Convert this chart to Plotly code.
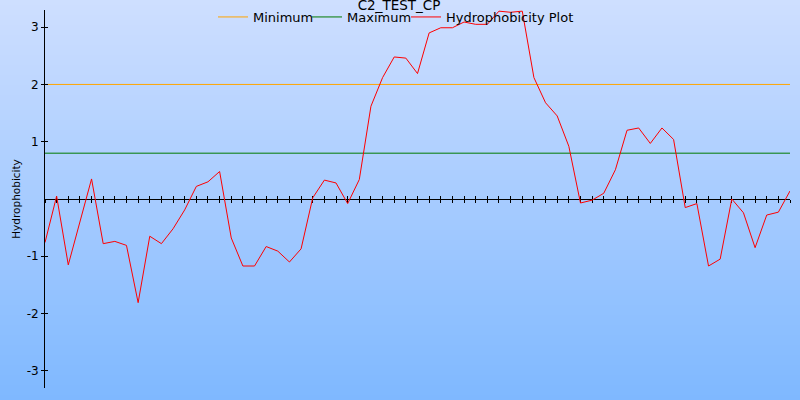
import plotly.graph_objects as go

# ---- data ----
positions = list(range(65))
hydrophobicity = [
    -0.76, 0.05, -1.15, -0.39, 0.35, -0.78, -0.74, -0.81, -1.81, -0.65,
    -0.78, -0.52, -0.19, 0.22, 0.30, 0.48, -0.68, -1.17, -1.17, -0.83,
    -0.91, -1.10, -0.87, 0.02, 0.33, 0.28, -0.08, 0.34, 1.62, 2.12,
    2.48, 2.46, 2.19, 2.90, 2.99, 2.99, 3.09, 3.05, 3.05, 3.28,
    3.26, 3.28, 2.12, 1.68, 1.45, 0.92, -0.07, -0.02, 0.10, 0.51,
    1.20, 1.24, 0.97, 1.24, 1.04, -0.15, -0.08, -1.17, -1.05, 0.00,
    -0.24, -0.85, -0.28, -0.23, 0.14,
]
min_level = 2.0
max_level = 0.8
y_ticks = [-3, -2, -1, 1, 2, 3]
y_tick_labels = ["-3", "-2", "-1", "1", "2", "3"]
title_text = "C2_TEST_CP"
y_title = "Hydrophobicity"

W, H = 800, 400
ML, MR, MT, MB = 45, 10, 10, 12
FONT = "DejaVu Sans"

fig = go.Figure()
x_end = [positions[0], positions[-1]]
fig.add_trace(go.Scatter(x=x_end, y=[min_level, min_level], mode="lines",
                         name="Minimum", legendwidth=49,
                         line=dict(color="#FFA500", width=1)))
fig.add_trace(go.Scatter(x=x_end, y=[max_level, max_level], mode="lines",
                         name="Maximum", legendwidth=54,
                         line=dict(color="#007A00", width=1)))
fig.add_trace(go.Scatter(x=positions, y=hydrophobicity, mode="lines",
                         name="Hydrophobicity Plot", line=dict(color="#FF0000", width=1)))

# background vertical gradient
pw = W - ML - MR
ph = H - MT - MB
top = (207, 223, 255)
bot = (126, 184, 255)
n = 80
shapes = []
for k in range(n):
    t0 = k / n
    t1 = (k + 1) / n
    c = tuple(round(top[j] + (bot[j] - top[j]) * (t0 + t1) / 2) for j in range(3))
    y0_px = H * t0 - (2 if k == 0 else 0)
    y1_px = H * t1 + (2 if k == n - 1 else 0.6)
    shapes.append(dict(
        type="rect", xref="paper", yref="paper", layer="below",
        x0=-(ML + 2) / pw, x1=1 + (MR + 2) / pw,
        y0=(H - MB - y1_px) / ph, y1=(H - MB - y0_px) / ph,
        fillcolor="rgb(%d,%d,%d)" % c, line=dict(width=0),
    ))

fig.update_layout(
    width=W, height=H,
    margin=dict(l=ML, r=MR, t=MT, b=MB, autoexpand=False),
    paper_bgcolor="rgb(166,203,255)",
    plot_bgcolor="rgba(0,0,0,0)",
    font=dict(family=FONT, size=12, color="#000000"),
    shapes=shapes,
    title=dict(text=title_text, x=399 / W, xanchor="center", y=1 - 5.5 / H,
               yref="container", yanchor="middle", font=dict(size=13.5, family=FONT)),
    legend=dict(orientation="h", x=(213 - ML) / pw, xanchor="left",
                y=(H - MB - 17) / ph, yanchor="middle",
                bgcolor="rgba(0,0,0,0)", font=dict(size=13, family=FONT),
                itemwidth=30),
    showlegend=True,
    xaxis=dict(range=[positions[0], positions[-1]], anchor="free", position=0.5,
               showgrid=False, zeroline=False, showline=True, linecolor="#000000",
               linewidth=1, ticks="outside", ticklen=3, tickcolor="#000000",
               tickwidth=1, dtick=1, tick0=0, showticklabels=False,
               layer="below traces", automargin=False),
    xaxis2=dict(range=[positions[0], positions[-1]], overlaying="x", anchor="free",
                position=0.5, showgrid=False, zeroline=False, showline=False,
                ticks="inside", ticklen=3, tickcolor="#000000", tickwidth=1,
                dtick=1, tick0=0, showticklabels=False, layer="below traces",
                automargin=False),
    yaxis=dict(range=[-3.3, 3.3], showgrid=False, zeroline=False, showline=True,
               linecolor="#000000", linewidth=1, ticks="outside", ticklen=3,
               tickcolor="#000000", tickvals=y_ticks, ticktext=y_tick_labels,
               tickfont=dict(size=12, family=FONT), automargin=False,
               title=dict(text=y_title, standoff=3, font=dict(size=10.5, family=FONT))),
    yaxis2=dict(range=[-3.3, 3.3], overlaying="y", anchor="x", side="left",
                showgrid=False, zeroline=False, showline=False, ticks="inside",
                ticklen=3, tickcolor="#000000", tickvals=y_ticks,
                showticklabels=False, automargin=False),
)
# invisible trace to activate secondary axes
fig.add_trace(go.Scatter(x=[positions[0]], y=[0], xaxis="x2", yaxis="y2", mode="markers",
                         marker=dict(opacity=0), showlegend=False, hoverinfo="skip"))

fig.write_html("out.html", config={"displayModeBar": False},
               post_script="document.body.style.margin='0';document.body.style.overflow='hidden';")
